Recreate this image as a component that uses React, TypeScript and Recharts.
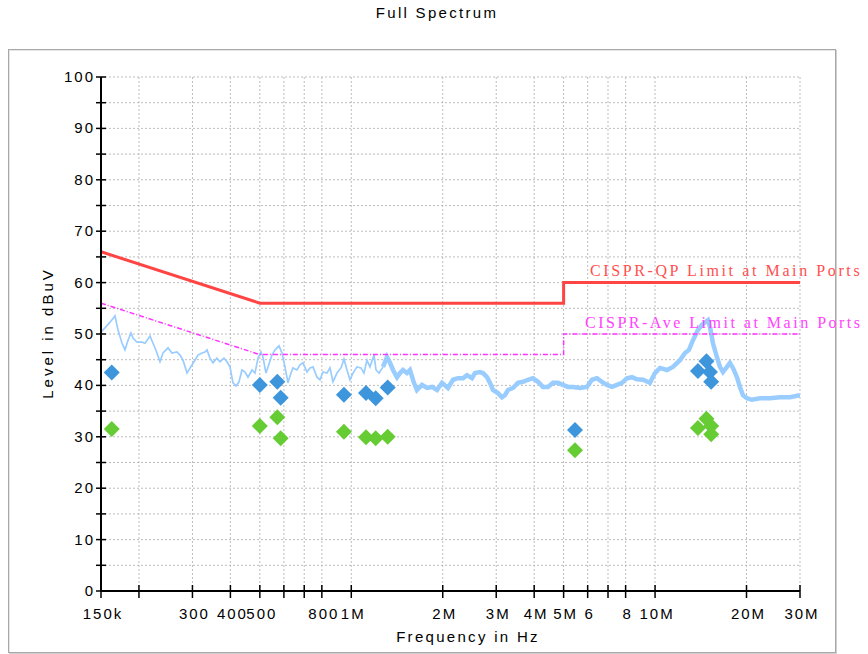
import React from "react"
import { CartesianGrid, ComposedChart, Line, Scatter, XAxis, YAxis } from "recharts"

// spectrum trace, thin part (kHz, dBuV)
const traceFreqK = [
  150, 154.6, 160.6, 166.8, 170.6, 175.9, 179.9, 184.1, 188.3, 191.2, 197.1, 204.7, 209.4, 217.5, 222.5,
  229.3, 234.6, 240, 249.3, 256.9, 266.8, 273, 279.3, 287.9, 299, 305.8, 312.9, 322.5, 329.9, 335, 342.6,
  350.5, 361.3, 369.6, 381, 389.8, 398.7, 407.9, 417.3, 426.9, 436.7, 446.8, 457, 471.1, 481.9, 493, 504.3,
  512, 523.8, 531.8, 548.2, 560.8, 578.1, 591.3, 605, 618.9, 633.1, 642.8, 662.6, 677.8, 693.4, 714.7,
  731.2, 748, 771.1, 788.8, 806.9, 831.8, 850.9, 870.5, 897.2, 924.9, 946.2, 967.9, 990.2, 1013, 1044,
  1076, 1101, 1126, 1152, 1188, 1206, 1234, 1272,
]
const traceLevel = [
  50.4, 51.2, 52.3, 53.5, 50.8, 48.2, 46.9, 48.8, 50.2, 49.2, 48.4, 48.4, 48.2, 49.6, 48.2,
  46.3, 44.6, 46.3, 47.3, 46.3, 46.5, 45.9, 44.9, 42.4, 44.0, 44.9, 45.9, 46.3, 46.5, 46.9, 45.3,
  44.4, 45.3, 44.6, 45.3, 44.6, 43.6, 40.5, 39.9, 40.7, 43.0, 42.6, 41.6, 43.0, 42.4, 45.3, 46.5,
  45.5, 42.4, 43.6, 45.9, 46.9, 47.7, 46.3, 43.6, 40.5, 42.4, 43.4, 43.0, 44.0, 44.4, 42.6,
  43.4, 43.6, 41.6, 41.1, 42.6, 42.4, 43.4, 40.7, 42.4, 43.4, 45.1, 43.0, 41.1, 42.4, 43.6,
  43.4, 42.4, 44.9, 43.6, 45.9, 43.0, 42.4, 43.6,
]

// spectrum trace, dense noisy band above ~1.3 MHz
const bandFreqK = [
  1272, 1311, 1341, 1372, 1414, 1446, 1480, 1525, 1560, 1608, 1645, 1709, 1775, 1844, 1915, 1989, 2081,
  2162, 2245, 2332, 2404, 2496, 2554, 2652, 2713, 2797, 2861, 2927, 3040, 3133, 3205, 3279, 3406, 3537,
  3674, 3816, 3963, 4116, 4275, 4440, 4612, 4790, 4975, 5167, 5367, 5659, 5968, 6199, 6438, 6687, 6945,
  7214, 7492, 7781, 8082, 8394, 8718, 9123, 9620, 9992, 10378, 10943, 11452, 12077, 12543, 12930, 13328,
  13843, 14269, 14597, 14932, 15160, 15508, 15985, 16353, 16729, 17244, 17640, 18046, 18601, 19029,
  19467, 20065, 20842, 22143, 23890, 25770, 27798, 30000,
]
const bandLevel = [
  43.6, 45.5, 44.4, 43.0, 41.6, 42.4, 43.0, 42.4, 43.0, 40.5, 39.1, 40.1, 39.5, 39.7, 39.1, 40.5, 39.5,
  41.1, 41.4, 41.4, 42.0, 41.4, 42.4, 42.6, 42.4, 41.6, 40.5, 39.1, 38.5, 37.7, 38.1, 39.1, 39.5, 40.5,
  40.7, 41.1, 41.4, 40.7, 39.7, 39.7, 40.5, 40.5, 40.1, 39.7, 39.7, 39.5, 39.7, 41.1, 41.4, 40.7, 40.1,
  39.7, 40.1, 40.5, 41.4, 41.6, 41.2, 41.1, 40.5, 42.4, 43.4, 43.0, 43.6, 44.9, 46.3, 46.9, 48.8,
  50.8, 51.8, 52.3, 52.7, 51.4, 48.2, 45.5, 43.6, 42.6, 43.6, 44.4, 43.4, 41.6, 39.7,
  38.1, 37.5, 37.2, 37.5, 37.5, 37.7, 37.7, 38.1,
]

// limit lines
const qpLimitFreqK = [150, 500, 5000, 5000, 30000]
const qpLimitLevel = [66, 56, 56, 60, 60]
const avLimitFreqK = [150, 500, 5000, 5000, 30000]
const avLimitLevel = [56, 46, 46, 50, 50]

// final measurements
const qpFreqK = [162.7, 500, 570.7, 585.5, 946, 1118, 1203, 1318, 5450, 13840, 14760, 15160, 15300]
const qpLevel = [42.5, 40.1, 40.7, 37.6, 38.2, 38.5, 37.5, 39.6, 31.3, 42.8, 44.7, 42.6, 40.7]
const avFreqK = [162.7, 500, 570.7, 585.5, 946, 1118, 1203, 1318, 5450, 13840, 14760, 15300, 15300]
const avLevel = [31.5, 32.1, 33.8, 29.7, 31.0, 29.9, 29.7, 30.0, 27.4, 31.7, 33.5, 30.5, 32.1]

const xTicks = [
  150e3, 200e3, 300e3, 400e3, 500e3, 600e3, 700e3, 800e3, 1e6, 2e6, 3e6, 4e6, 5e6, 6e6, 7e6, 8e6, 10e6, 20e6, 30e6,
]
const xTickLabels: Record<number, string> = {
  150000: "150k", 300000: "300", 400000: "400", 500000: "500", 800000: "800", 1000000: "1M",
  2000000: "2M", 3000000: "3M", 4000000: "4M", 5000000: "5M", 6000000: "6", 8000000: "8",
  10000000: "10M", 20000000: "20M", 30000000: "30M",
}
const yTicks = [0, 5, 10, 15, 20, 25, 30, 35, 40, 45, 50, 55, 60, 65, 70, 75, 80, 85, 90, 95, 100]

const toPoints = (fk: number[], lv: number[]) => fk.map((f, i) => ({ f: f * 1000, v: lv[i] }))

const trace = toPoints(traceFreqK, traceLevel)
const band = toPoints(bandFreqK, bandLevel)
const qpLimit = toPoints(qpLimitFreqK, qpLimitLevel)
const avLimit = toPoints(avLimitFreqK, avLimitLevel)
const qpPoints = toPoints(qpFreqK, qpLevel)
const avPoints = toPoints(avFreqK, avLevel)

const W = 868
const H = 654
const LEFT = 101
const RIGHT = 800
const TOP = 77
const BOTTOM = 591
const sans = "'Liberation Sans', Arial, sans-serif"
const serif = "'Liberation Serif', 'Times New Roman', serif"

const YTick = (props: any) => {
  const { y, payload } = props
  const major = payload.value % 10 === 0
  return (
    <g>
      <line x1={LEFT - 5} x2={LEFT + 5} y1={y} y2={y} stroke="#000" strokeWidth={1.5} />
      {major && (
        <text x={LEFT - 6} y={y + 5} textAnchor="end" fontSize={15} fontFamily={sans} letterSpacing={2} fill="#000">
          {payload.value}
        </text>
      )}
    </g>
  )
}

const XTick = (props: any) => {
  const { x, payload } = props
  const label = xTickLabels[payload.value]
  return (
    <g>
      <line x1={x} x2={x} y1={BOTTOM - 6} y2={BOTTOM + 7} stroke="#000" strokeWidth={1.5} />
      {label && (
        <text x={x + 2} y={BOTTOM + 28} textAnchor="middle" fontSize={15} fontFamily={sans} letterSpacing={2} fill="#000">
          {label}
        </text>
      )}
    </g>
  )
}

const Diamond = (props: any) => {
  const { cx, cy, fill } = props
  const s = 8
  return <path d={`M${cx},${cy - s}L${cx + s},${cy}L${cx},${cy + s}L${cx - s},${cy}Z`} fill={fill} />
}

export default function App() {
  return (
    <div style={{ position: "absolute", left: 0, top: 0, width: W, height: H, background: "#fff", overflow: "hidden" }}>
      <div
        style={{
          position: "absolute", left: 8, top: 49, width: 826, height: 602,
          border: "1px solid #a8a8a8", boxShadow: "inset 1px 1px 0 #e6e6e6, 1px 1px 0 #cfcfcf",
        }}
      />
      <div
        style={{
          position: "absolute", left: 437, top: 4, transform: "translateX(-50%)", whiteSpace: "nowrap",
          fontFamily: sans, fontSize: 15, letterSpacing: 2.3, color: "#000",
        }}
      >
        Full Spectrum
      </div>
      <div style={{ position: "absolute", left: 0, top: 0 }}>
        <ComposedChart width={W} height={H} margin={{ top: TOP, right: W - RIGHT, bottom: 33, left: LEFT - 60 }}>
          <CartesianGrid stroke="#bdbdbd" strokeDasharray="2 2" />
          <XAxis
            dataKey="f"
            type="number"
            scale="log"
            domain={[150e3, 30e6]}
            ticks={xTicks}
            allowDataOverflow
            height={30}
            axisLine={{ stroke: "#000", strokeWidth: 2 }}
            tickLine={false}
            tick={<XTick />}
            interval={0}
          />
          <YAxis
            dataKey="v"
            type="number"
            domain={[0, 100]}
            ticks={yTicks}
            allowDataOverflow
            width={60}
            axisLine={{ stroke: "#000", strokeWidth: 2 }}
            tickLine={false}
            tick={<YTick />}
            interval={0}
          />
          <Line data={trace} dataKey="v" type="linear" stroke="#99ccff" strokeWidth={1.7} dot={false} activeDot={false} isAnimationActive={false} />
          <Line data={band} dataKey="v" type="linear" stroke="#99ccff" strokeWidth={4.5} dot={false} activeDot={false} isAnimationActive={false} />
          <Line data={avLimit} dataKey="v" type="linear" stroke="#ff33ff" strokeWidth={1.5} strokeDasharray="5 2 1 2" dot={false} activeDot={false} isAnimationActive={false} />
          <Line data={qpLimit} dataKey="v" type="linear" stroke="#ff4444" strokeWidth={3} dot={false} activeDot={false} isAnimationActive={false} />
          <Scatter data={qpPoints} dataKey="v" fill="#3d95dc" shape={<Diamond />} isAnimationActive={false} />
          <Scatter data={avPoints} dataKey="v" fill="#66cc33" shape={<Diamond />} isAnimationActive={false} />
        </ComposedChart>
      </div>
      <div
        style={{
          position: "absolute", left: 47, top: 333, transform: "translate(-50%, -50%) rotate(-90deg)", whiteSpace: "nowrap",
          fontFamily: sans, fontSize: 15, letterSpacing: 3, color: "#000",
        }}
      >
        Level in dBuV
      </div>
      <div
        style={{
          position: "absolute", left: 468, top: 628, transform: "translateX(-50%)", whiteSpace: "nowrap",
          fontFamily: sans, fontSize: 15, letterSpacing: 2.3, color: "#000",
        }}
      >
        Frequency in Hz
      </div>
      <div
        style={{
          position: "absolute", left: 590, top: 262, whiteSpace: "nowrap",
          fontFamily: serif, fontSize: 16, letterSpacing: 2.6, color: "#ff5050",
        }}
      >
        CISPR-QP Limit at Main Ports
      </div>
      <div
        style={{
          position: "absolute", left: 585, top: 314, whiteSpace: "nowrap",
          fontFamily: serif, fontSize: 16, letterSpacing: 2.5, color: "#ff44ff",
        }}
      >
        CISPR-Ave Limit at Main Ports
      </div>
    </div>
  )
}
